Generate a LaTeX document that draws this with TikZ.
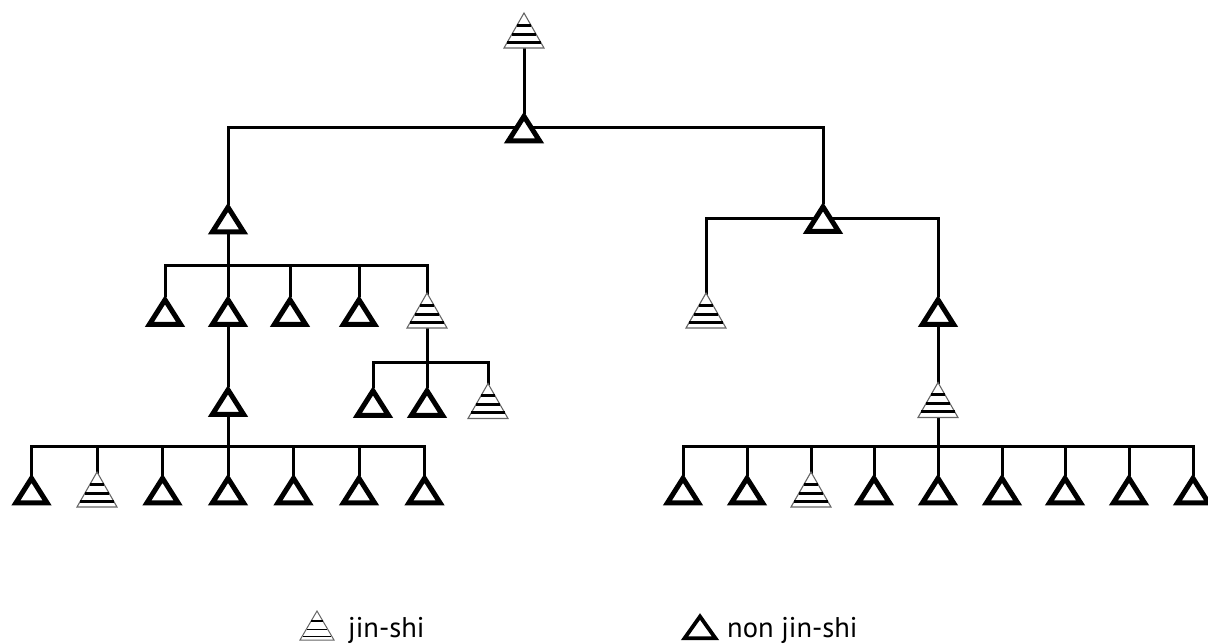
\documentclass[tikz,border=0pt]{standalone}
\usepackage{fontspec}
\setmainfont{PT Sans}
\usetikzlibrary{backgrounds}
\tikzset{
  link/.style={line width=3pt, line cap=rect},
  plain/.pic={
    \draw[line width=5pt, fill=white, line join=miter] (0,-11.2) -- (15.5,13.25) -- (-15.5,13.25) -- cycle;
    \coordinate (-top) at (0,-15.5); \coordinate (-bot) at (0,15.5); \coordinate (-c) at (0,0);
  },
  hatched/.pic={
    \draw[gray!80!black, line width=1.1pt, fill=white, line join=miter] (0,-17.5) -- (20,17.5) -- (-20,17.5) -- cycle;
    \draw[line width=3pt] (-7.2,-5.25) -- (7.2,-5.25) (-12.4,3.85) -- (12.4,3.85) (-16.8,11.9) -- (16.8,11.9);
    \coordinate (-top) at (0,-17.5); \coordinate (-bot) at (0,17.5); \coordinate (-c) at (0,0);
  },
  keyplain/.pic={
    \draw[line width=3.8pt, fill=white, line join=miter] (0,-10.5) -- (15.5,11.3) -- (-15.5,11.3) -- cycle;
  },
  keyhatched/.pic={
    \draw[gray!80!black, line width=1pt, fill=white] (0,-15) -- (17,14) -- (-17,14) -- cycle;
    \draw[line width=1.8pt] (-5.7,-5) -- (5.7,-5) (-10.2,3.5) -- (10.2,3.5) (-14.3,10.5) -- (14.3,10.5);
  },
  lbl/.style={anchor=base west, inner sep=0pt, font=\fontsize{28.5}{32}\selectfont}
}
\begin{document}
\begin{tikzpicture}[x=1pt, y=-1pt]
\useasboundingbox (0,0) rectangle (1208,643);
% tree
\pic (root) at (524,30.5) {hatched};
\pic (n1) at (524,127.5) {plain};
\pic (L) at (228,218.5) {plain};
\pic (R) at (823,218) {plain};
\pic (L1) at (165,311) {plain};
\pic (L2) at (228,311) {plain};
\pic (L3) at (290,311) {plain};
\pic (L4) at (359,311) {plain};
\pic (L5) at (427,310.5) {hatched};
\pic (R1) at (706,310.5) {hatched};
\pic (R2) at (938,311) {plain};
\pic (LL) at (228,401) {plain};
\pic (S1) at (373,402) {plain};
\pic (S2) at (427,402) {plain};
\pic (S3) at (488,401) {hatched};
\pic (RH) at (938,400) {hatched};
\foreach \i/\x in {1/31.5,3/162.5,4/228,5/293.5,6/359,7/424.5}
  \pic (B\i) at (\x,489.5) {plain};
\pic (B2) at (97,489.5) {hatched};
\foreach \i/\x in {1/683,2/747,4/874,5/938,6/1002,7/1065,8/1129,9/1193}
  \pic (C\i) at (\x,489.5) {plain};
\pic (C3) at (811,489.5) {hatched};
% bar points
\coordinate (barL) at (228,265);
\coordinate (barS) at (427,362);
\coordinate (barB) at (228,446);
\coordinate (barC) at (938,446);
\begin{scope}[on background layer]
  \draw[link] (root-bot) -- (n1-top);
  \draw[link] (L-top) |- (n1-c) -| (R-top);
  \draw[link] (L-bot) -- (barL);
  \draw[link] (L1-top) |- (barL) -| (L5-top);
  \foreach \n in {L2,L3,L4} \draw[link] (\n-top) -- (\n-top |- barL);
  \draw[link] (R1-top) |- (R-c) -| (R2-top);
  \draw[link] (L5-bot) -- (barS);
  \draw[link] (S1-top) |- (barS) -| (S3-top);
  \draw[link] (S2-top) -- (S2-top |- barS);
  \draw[link] (L2-bot) -- (LL-top);
  \draw[link] (LL-bot) -- (barB);
  \draw[link] (B1-top) |- (barB) -| (B7-top);
  \foreach \n in {B2,B3,B4,B5,B6} \draw[link] (\n-top) -- (\n-top |- barB);
  \draw[link] (R2-bot) -- (RH-top);
  \draw[link] (RH-bot) -- (barC);
  \draw[link] (C1-top) |- (barC) -| (C9-top);
  \foreach \n in {C2,C3,C4,C5,C6,C7,C8} \draw[link] (\n-top) -- (\n-top |- barC);
\end{scope}
% legend
\pic at (317,626) {keyhatched};
\node[lbl] (k1) at (348,637) {jin-shi};
\pic at (700,627) {keyplain};
\node[lbl] (k2) at (727,637) {non jin-shi};
\end{tikzpicture}
\end{document}
